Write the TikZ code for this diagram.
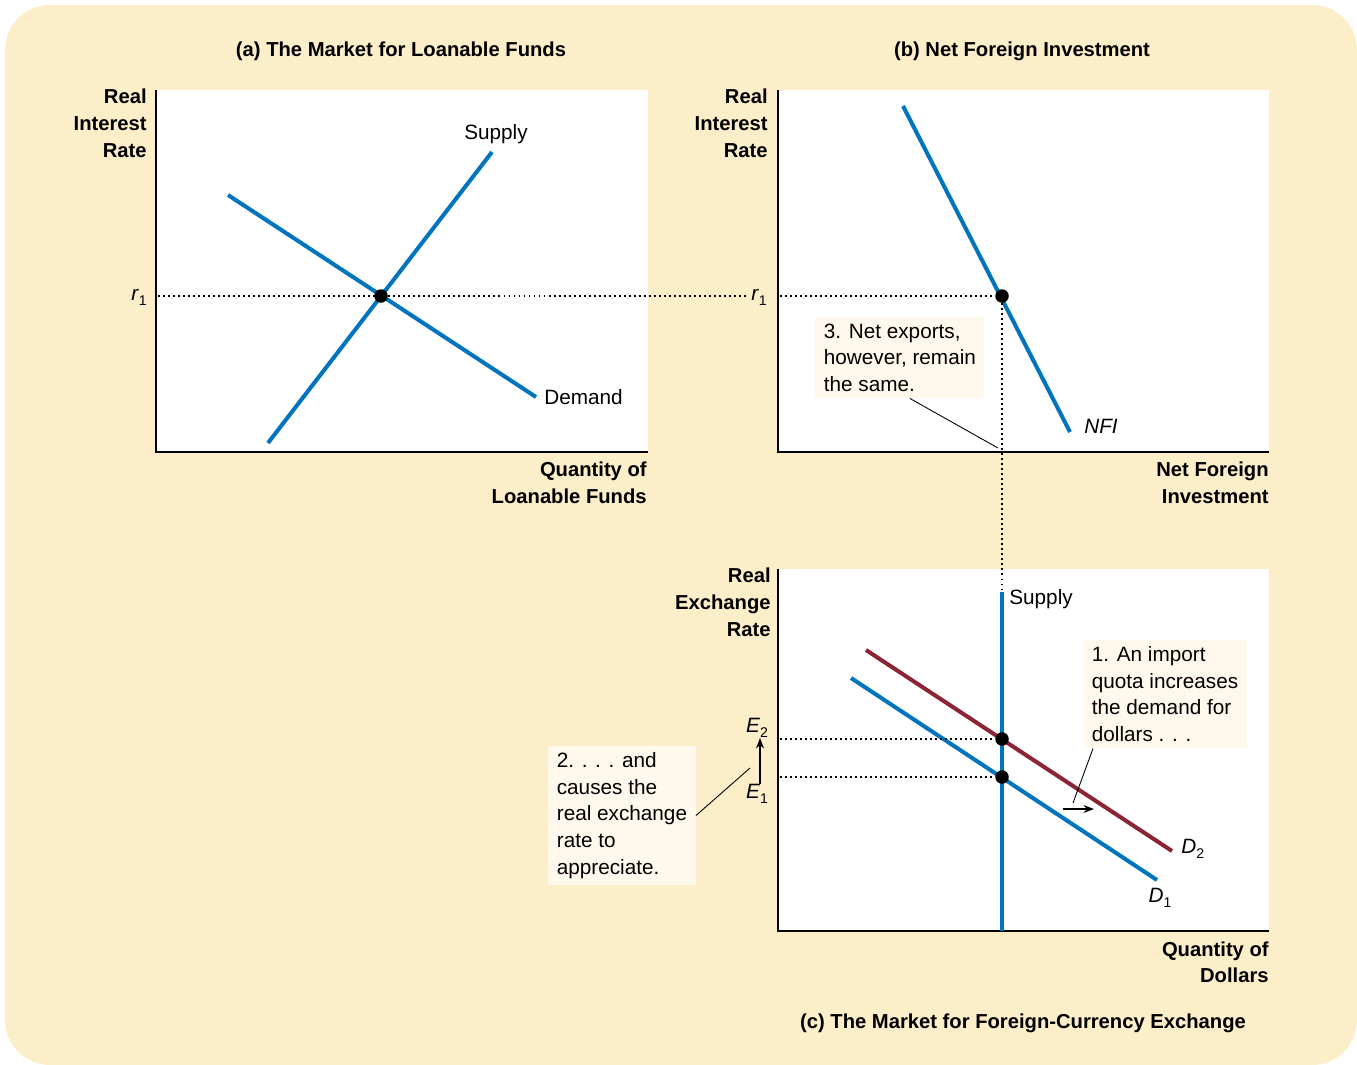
\documentclass[tikz,border=0pt]{standalone}
\usepackage{fontspec}
\setmainfont{Liberation Sans}
\usepackage{xcolor}
\usepackage{tikz}
\usetikzlibrary{arrows.meta,positioning,calc}

\definecolor{panelbg}{RGB}{252,238,200}
\definecolor{notebg}{RGB}{254,249,236}
\definecolor{curveblue}{RGB}{0,117,190}
\definecolor{curvered}{RGB}{139,36,52}
\newcommand\lbl[2]{\textit{#1}\raisebox{-0.45ex}{\footnotesize#2}}

\tikzset{
  curve/.style={line width=2.3pt},
  axis/.style={line width=0.9pt},
  dotline/.style={line width=1.1pt, dash pattern=on 1.1pt off 1.75pt},
  eqdot/.style={circle, fill=black, inner sep=0pt, minimum size=0.27cm},
  headlbl/.style={font=\bfseries\fontsize{11.5}{15.1}\selectfont, inner sep=0pt},
  axlbl/.style={headlbl, align=right},
  bodylbl/.style={font=\fontsize{11.8}{15.1}\selectfont, inner sep=0pt},
  notebox/.style={bodylbl, fill=notebg, align=left, inner xsep=0.17cm, inner ysep=0.13cm, anchor=north west},
  leader/.style={line width=0.5pt},
}

\begin{document}
\begin{tikzpicture}[x=0.02cm, y=-0.02cm, >={Stealth[length=6pt,width=4.5pt]}]
\useasboundingbox (0,0) rectangle (1357,1065);
\fill[panelbg, rounded corners=0.9cm] (5,5) rectangle (1357,1065);

% plot areas
\fill[white] (156,90) rectangle (648,452);
\fill[white] (778,90) rectangle (1269,452);
\fill[white] (778,569) rectangle (1269,931);
\draw[axis] (156,90) -- (156,452) -- (648,452);
\draw[axis] (778,90) -- (778,452) -- (1269,452);
\draw[axis] (778,569) -- (778,931) -- (1269,931);

% titles
\node[headlbl] (title-a) at (401,51) {(a) The Market for Loanable Funds};
\node[headlbl] (title-b) at (1022,51) {(b) Net Foreign Investment};
\node[headlbl] (title-c) at (1023,1023) {(c) The Market for Foreign-Currency Exchange};

% axis labels
\node[axlbl, anchor=north east] (ylab-a) at (147,89) {Real\\Interest\\Rate};
\node[axlbl, anchor=north east] (xlab-a) at (647,462) {Quantity of\\Loanable Funds};
\node[axlbl, anchor=north east] (ylab-b) at (768,89) {Real\\Interest\\Rate};
\node[axlbl, anchor=north east] (xlab-b) at (1269,462) {Net Foreign\\Investment};
\node[axlbl, anchor=north east] (ylab-c) at (771,568) {Real\\Exchange\\Rate};
\node[axlbl, anchor=north east] (xlab-c) at (1269,941) {Quantity of\\Dollars};

% (a) loanable funds
\coordinate (dem-a) at (228,195);
\coordinate (dem-b) at (536,397);
\coordinate (sup-a) at (268,443);
\coordinate (sup-b) at (492,152);
\draw[curve, curveblue] (dem-a) -- (dem-b);
\draw[curve, curveblue] (sup-a) -- (sup-b);
\node[bodylbl, anchor=west] (dem-lbl) at (544,397) {Demand};
\node[bodylbl] (sup-lbl) at (496,134) {Supply};

% (b) net foreign investment
\coordinate (nfi-a) at (903,106);
\coordinate (nfi-b) at (1070,432);
\draw[curve, curveblue] (nfi-a) -- (nfi-b);
\node[bodylbl, anchor=west] (nfi-lbl) at (1084,426) {\textit{NFI}};

% interest rate r1
\node[eqdot] (eq-a) at (381,296) {};
\node[eqdot] (eq-b) at (1002,296) {};
\node[bodylbl] (r1-a) at (139,297) {\lbl{r}{1}};
\node[bodylbl] (r1-b) at (759,297) {\lbl{r}{1}};
\coordinate (r-start) at (158,296);
\coordinate (r-end) at (746,296);
\coordinate (rb-start) at (780,296);
\draw[dotline] (r-start) -- (r-end);
\draw[dotline] (rb-start) -- (eq-b);

% (c) foreign-currency exchange
\coordinate (fx-top) at (1002,592);
\coordinate (fx-bot) at (1002,931);
\coordinate (d1-a) at (851,678);
\coordinate (d1-b) at (1157,880);
\coordinate (d2-a) at (866,650);
\coordinate (d2-b) at (1172,851);
\draw[dotline] (eq-b) -- (fx-top);
\draw[curve, curveblue] (d1-a) -- (d1-b);
\draw[curve, curvered] (d2-a) -- (d2-b);
\draw[curve, curveblue] (fx-top) -- (fx-bot);
\node[bodylbl, anchor=west] (fx-lbl) at (1009,599) {Supply};
\node[bodylbl, anchor=west] (d2-lbl) at (1181,849) {\lbl{D}{2}};
\node[bodylbl] (d1-lbl) at (1160,898) {\lbl{D}{1}};

\node[eqdot] (eq-2) at (1002,739) {};
\node[eqdot] (eq-1) at (1002,777) {};
\coordinate (e2-start) at (780,739);
\coordinate (e1-start) at (780,777);
\draw[dotline] (e2-start) -- (eq-2);
\draw[dotline] (e1-start) -- (eq-1);
\node[bodylbl] (e2) at (757,728) {\lbl{E}{2}};
\node[bodylbl] (e1) at (757,794) {\lbl{E}{1}};
\draw[->, line width=0.8pt] ([xshift=0.06cm]e1.north) -- ([xshift=0.06cm]e2.south);

% notes
\node[notebox] (note-3) at (815,317) {3. Net exports,\\however, remain\\the same.};
\coordinate (note3-tip) at (998,448);
\draw[leader] ([xshift=0.2cm]note-3.south) -- (note3-tip);

\node[notebox] (note-1) at (1083,640) {1. An import\\quota increases\\the demand for\\dollars . . .};
\coordinate (note1-tip) at (1073,803);
\draw[leader] ([xshift=0.2cm]note-1.south west) -- (note1-tip);
\coordinate (shift-a) at (1063,809);
\coordinate (shift-b) at (1094,809);
\draw[->, line width=0.8pt] (shift-a) -- (shift-b);

\node[notebox] (note-2) at (548,746) {2. . . . and\\causes the\\real exchange\\rate to\\appreciate.};
\coordinate (note2-tip) at (750,768);
\draw[leader] (note-2.east) -- (note2-tip);
\end{tikzpicture}
\end{document}
